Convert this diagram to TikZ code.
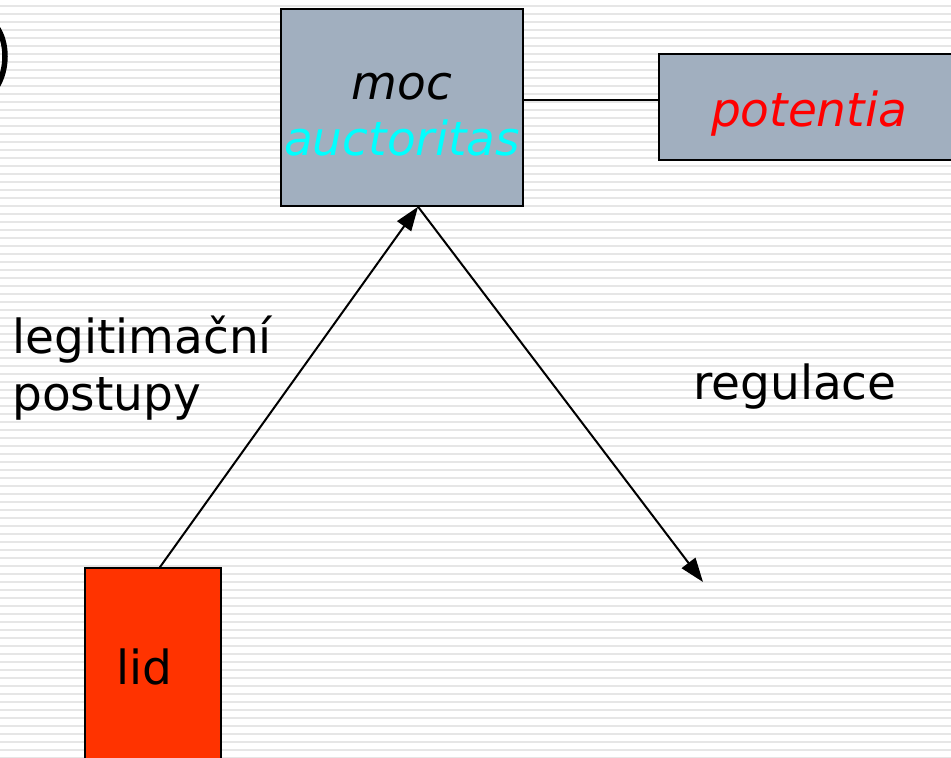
\documentclass[tikz,border=0pt]{standalone}
\usepackage{fontspec}
\setmainfont{DejaVu Sans}
\usetikzlibrary{arrows.meta,calc}
\definecolor{boxgray}{RGB}{161,175,191}
\definecolor{lidred}{RGB}{255,51,0}
\definecolor{stripe}{RGB}{230,230,230}
\tikzset{
  stripeline/.style={draw=stripe,line width=2pt},
  graybox/.style={draw=black,line width=1.5pt,fill=boxgray,inner sep=0pt},
  redbox/.style={draw=black,line width=1.5pt,fill=lidred,inner sep=0pt},
  big/.style={font=\fontsize{47}{56}\selectfont,inner sep=0pt},
  conn/.style={draw=black,line width=2pt},
  arr/.style={conn,-{Triangle[length=24pt,width=17pt]}},
}
\begin{document}
\begin{tikzpicture}[x=1pt,y=-1pt]
\useasboundingbox (0,0) rectangle (951,758);
\clip (0,0) rectangle (951,758);
\fill[white] (0,0) rectangle (951,758);
\foreach \y in {6,14,...,758} \draw[stripeline] (0,\y) -- (951,\y);
% partial glyph at top-left
\draw[line width=5.5pt] (-4,26) .. controls (8,42) and (8,70) .. (-4,88);
% boxes
\node[graybox,minimum width=242pt,minimum height=197pt] (moc) at (402,107.5) {};
\node[big,anchor=base] (moctext) at (402,99) {\itshape moc};
\node[big,anchor=base,text={rgb,255:red,0;green,255;blue,255}] (auct) at (402,155) {\itshape auctoritas};
\node[graybox,minimum width=300pt,minimum height=106pt] (pot) at (809,107) {};
\node[big,anchor=base,text=red] (pottext) at (809,126) {\itshape potentia};
\node[redbox,minimum width=136pt,minimum height=210pt] (lid) at (153,673) {};
\node[big,anchor=base] (lidtext) at (144,684) {lid};
% labels
\node[big,anchor=base west] (leg) at (12,353) {legitimační};
\node[big,anchor=base west] (post) at (12,410) {postupy};
\node[big,anchor=base west] (reg) at (693,399) {regulace};
% connectors
\coordinate (mocbot) at ($(moc.south west)!0.566!(moc.south east)$);
\coordinate (lidtop) at ($(lid.north west)!0.55!(lid.north east)$);
\coordinate (regend) at (703,582);
\draw[conn] (moc.east |- 0,100) -- (pot.west |- 0,100);
\draw[arr] (lidtop) -- (mocbot);
\draw[arr] (mocbot) -- (regend);
\end{tikzpicture}
\end{document}
